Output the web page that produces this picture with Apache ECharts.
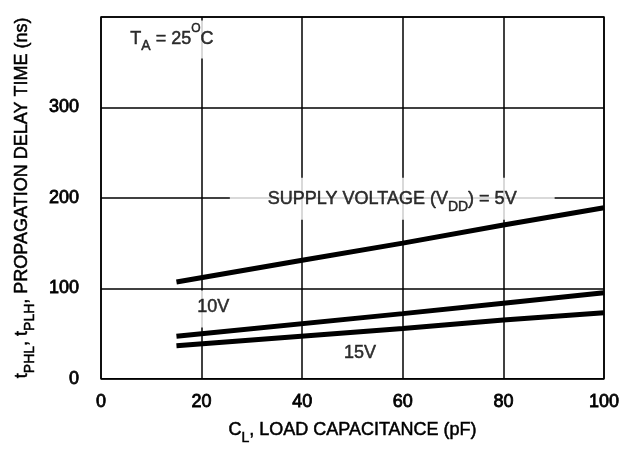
<!DOCTYPE html>
<html>
<head>
<meta charset="utf-8">
<script src="https://cdn.jsdelivr.net/npm/echarts@6/dist/echarts.min.js"></script>
<style>
  html, body { margin: 0; padding: 0; background: #fff; }
  #main { width: 634px; height: 450px; }
</style>
</head>
<body>
<div id="main"></div>
<script>
// load capacitance (pF) vs propagation delay (ns)
var xTicks = [0, 20, 40, 60, 80, 100];
var yTicks = [0, 100, 200, 300];
var vdd5 = [[15, 107], [40, 131], [60, 150], [80, 170], [100, 189]];
var vdd10 = [[15, 47], [60, 72], [80, 83.5], [100, 95]];
var vdd15 = [[15, 36.5], [60, 55.5], [80, 65], [100, 73]];

var FONT = 'Liberation Sans, Arial, sans-serif';
var chart = echarts.init(document.getElementById('main'));

// slightly heavier text, like the scanned datasheet
var ink = { fontFamily: FONT, color: '#000', textBorderColor: '#000', textBorderWidth: 0.5 };
var sub = Object.assign({ fontSize: 14, verticalAlign: 'bottom', padding: [0, 0, -6, 0] }, ink);
var sup = Object.assign({ fontSize: 12, verticalAlign: 'top', padding: [-7, 0, 0, 0] }, ink);

function lineSeries(data) {
    return {
        type: 'line',
        data: data,
        symbol: 'none',
        z: 3,
        lineStyle: { color: '#000', width: 5 }
    };
}

function textPoint(x, y, text, pad) {
    return {
        value: [x, y],
        label: Object.assign({
            show: true,
            position: 'inside',
            formatter: text,
            backgroundColor: '#fff',
            padding: pad,
            fontSize: 18,
            rich: { sub: sub, sup: sup }
        }, ink)
    };
}

chart.setOption({
    animation: false,
    grid: {
        left: 101, right: 30, top: 17, bottom: 69,
        show: true, borderColor: '#000', borderWidth: 1.5
    },
    xAxis: {
        type: 'value',
        min: 0, max: 100, interval: 20,
        name: 'C{sub|L}, LOAD CAPACITANCE (pF)',
        nameLocation: 'middle',
        nameGap: 42,
        nameTextStyle: Object.assign({ fontSize: 18, rich: { sub: sub } }, ink),
        axisLine: { show: false },
        axisTick: { show: false },
        axisLabel: Object.assign({ margin: 14, fontSize: 18 }, ink, { textBorderWidth: 0.8 }),
        splitLine: { lineStyle: { color: '#000', width: 1.5 } }
    },
    yAxis: {
        type: 'value',
        min: 0, max: 400, interval: 100,
        name: 't{sub|PHL}, t{sub|PLH}, PROPAGATION DELAY TIME (ns)',
        nameLocation: 'middle',
        nameGap: 69,
        nameTextStyle: Object.assign({ fontSize: 18, rich: { sub: sub } }, ink),
        axisLine: { show: false },
        axisTick: { show: false },
        axisLabel: Object.assign({
            margin: 22, fontSize: 18,
            formatter: function (v) { return yTicks.indexOf(v) >= 0 ? String(v) : ''; }
        }, ink, { textBorderWidth: 0.8 }),
        splitLine: { lineStyle: { color: '#000', width: 1.5 } }
    },
    series: [
        lineSeries(vdd5),
        lineSeries(vdd10),
        lineSeries(vdd15),
        {
            type: 'scatter',
            symbolSize: 0,
            z: 1,
            silent: true,
            data: [
                textPoint(14.1, 375, 'T{sub|A} = 25{sup|O}C', [9, 10, 11, 10]),
                textPoint(57.9, 199, 'SUPPLY VOLTAGE (V{sub|DD}) = 5V', [12, 38, 12, 38]),
                textPoint(22.3, 77, '10V', [7, 8, 12, 8]),
                textPoint(51.5, 28, '15V', [4, 4, 4, 4])
            ]
        }
    ]
});
</script>
</body>
</html>
